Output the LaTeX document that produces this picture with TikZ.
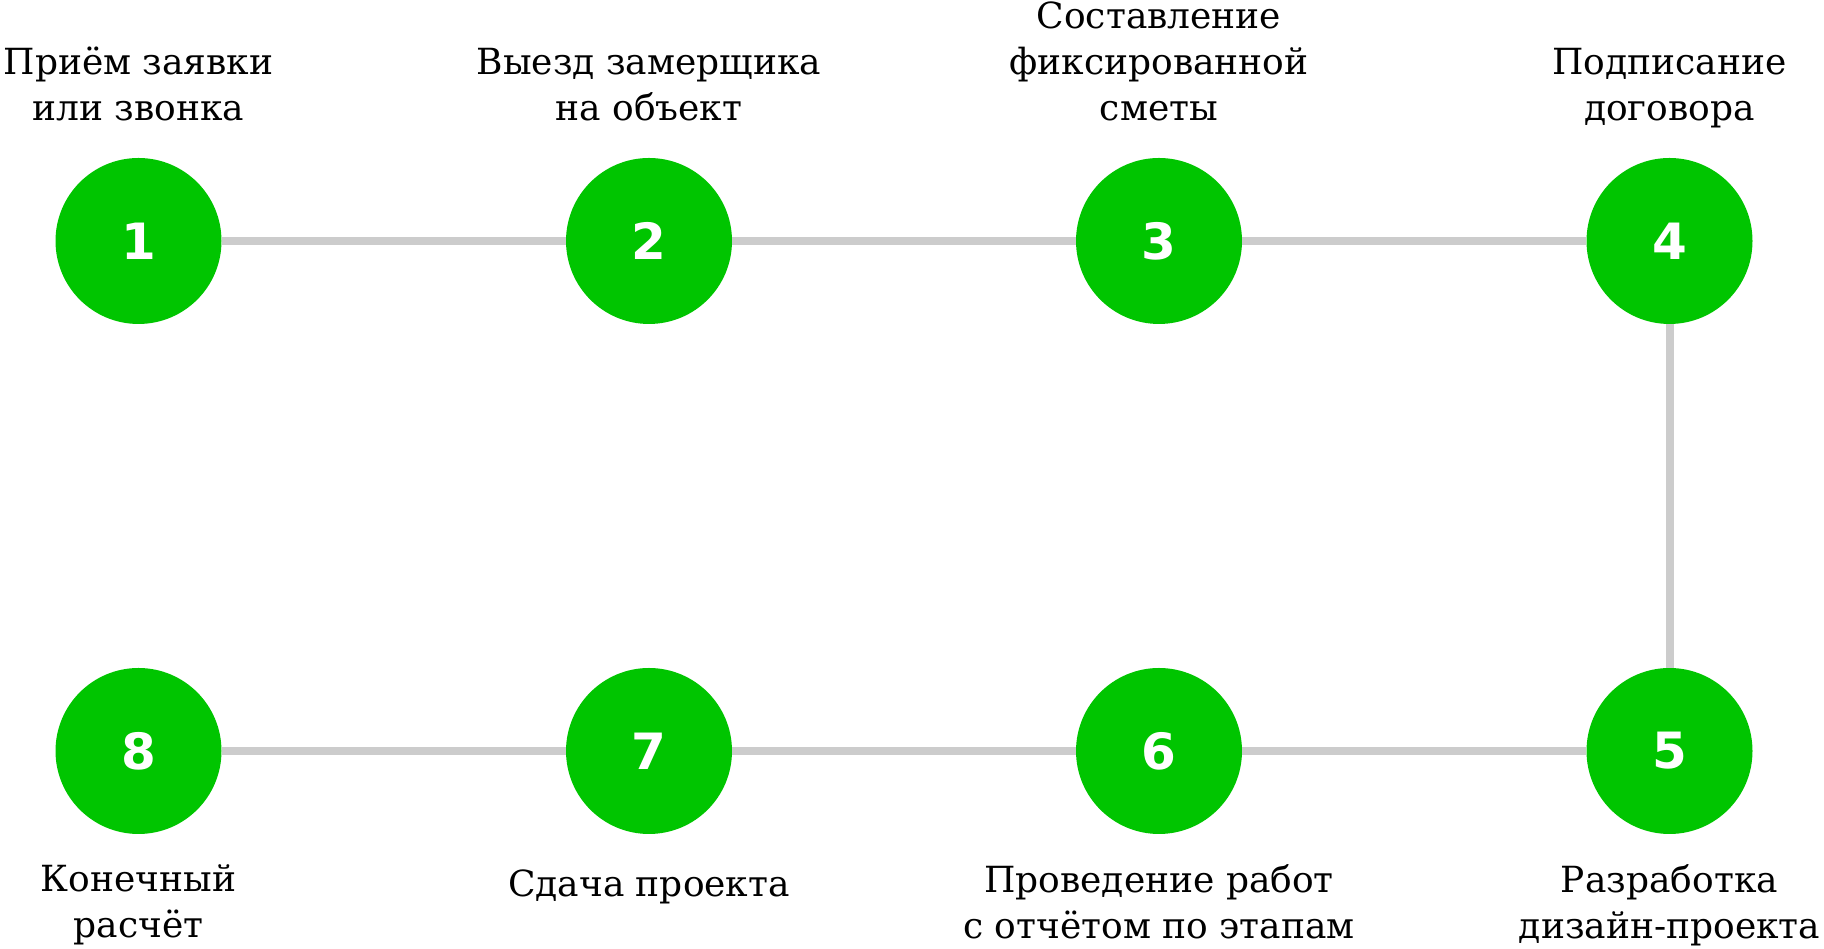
\documentclass[tikz,border=0pt]{standalone}
\usepackage{fontspec}
\setmainfont{DejaVu Serif}
\newfontfamily\numfont{DejaVu Sans}
\definecolor{stepgreen}{RGB}{0,197,0}
\definecolor{linkgray}{RGB}{204,204,204}
\begin{document}
\begin{tikzpicture}[x=1pt,y=1pt,
    num/.style={circle,fill=stepgreen,minimum size=166pt,inner sep=0pt,text=white,
      font=\numfont\fontsize{50}{50}\selectfont\bfseries},
    top label/.style={anchor=south,align=center,inner sep=0pt,
      font=\fontsize{36}{46}\selectfont,execute at end node=\strut},
    bottom label/.style={anchor=north,align=center,inner sep=0pt,
      font=\fontsize{36}{46}\selectfont,execute at begin node=\strut}]
  \useasboundingbox (0,0) rectangle (1824,949);
  \draw
    (138.5,708) node[num] (1){1}
    (649,708) node[num] (2){2}
    (1159,708) node[num] (3){3}
    (1669.5,708) node[num] (4){4}
    (1669.5,198) node[num] (5){5}
    (1159,198) node[num] (6){6}
    (649,198) node[num] (7){7}
    (138.5,198) node[num] (8){8};
  \begin{scope}[-,linkgray,line width=8pt]
    \draw (1) to (2);
    \draw (2) to (3);
    \draw (3) to (4);
    \draw (4) to (5);
    \draw (5) to (6);
    \draw (6) to (7);
    \draw (7) to (8);
  \end{scope}
  \draw
    (138.5,814.2) node[top label] (t1){Приём заявки\\или звонка}
    (649,814.2) node[top label] (t2){Выезд замерщика\\на объект}
    (1159,814.2) node[top label] (t3){Составление\\фиксированной\\сметы}
    (1669.5,814.2) node[top label] (t4){Подписание\\договора}
    (1669.5,85) node[bottom label] (t5){Разработка\\дизайн-проекта}
    (1159,85) node[bottom label] (t6){Проведение работ\\с отчётом по этапам}
    (649,85) node[bottom label] (t7){Сдача проекта}
    (138.5,85) node[bottom label] (t8){Конечный\\расчёт};
\end{tikzpicture}
\end{document}
